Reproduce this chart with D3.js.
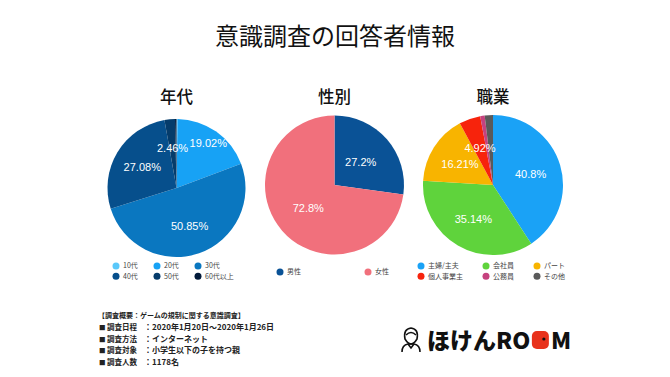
<!DOCTYPE html>
<html>
<head>
<meta charset="utf-8">
<script src="https://cdn.jsdelivr.net/npm/d3@7"></script>
<style>
  body { margin: 0; background: #fff; }
  svg { display: block; }
</style>
</head>
<body>
<script>
// --- data ---
const ageLabels = ["10代", "20代", "30代", "40代", "50代", "60代以上"];
const ageValues = [0.25, 19.02, 50.85, 27.08, 2.46, 0.34];
const ageColors = ["#5ac8fa", "#17a2f5", "#0a77c0", "#064f8c", "#053c6b", "#021a3a"];

const sexLabels = ["男性", "女性"];
const sexValues = [27.2, 72.8];
const sexColors = ["#0a5296", "#f1707c"];

const jobLabels = ["主婦/主夫", "会社員", "パート", "個人事業主", "公務員", "その他"];
const jobValues = [40.8, 35.14, 16.21, 4.92, 1.03, 1.9];
const jobColors = ["#1aa2f6", "#5fd33c", "#f8b400", "#f7230c", "#c6427f", "#5a5a5a"];

const infoRows = [
  ["調査日程", "：2020年1月20日〜2020年1月26日"],
  ["調査方法", "：インターネット"],
  ["調査対象", "：小学生以下の子を持つ親"],
  ["調査人数", "：1178名"]
];

const width = 670, height = 377;
const jp = "'Noto Sans CJK JP', 'Noto Sans', sans-serif";
const latin = "'Liberation Sans', Arial, 'Noto Sans CJK JP', sans-serif";

const svg = d3.select("body").append("svg")
  .attr("width", width)
  .attr("height", height);

svg.append("text")
  .attr("x", 335).attr("y", 45)
  .attr("text-anchor", "middle")
  .attr("font-family", jp)
  .attr("font-size", 24)
  .attr("fill", "#111")
  .text("意識調査の回答者情報");

function drawPie(opt) {
  const g = svg.append("g").attr("transform", `translate(${opt.cx},${opt.cy})`);
  const pie = d3.pie().sort(null).value(d => d.v);
  const arcs = pie(opt.labels.map((l, i) => ({ l, v: opt.values[i], c: opt.colors[i] })));
  const arc = d3.arc().innerRadius(0).outerRadius(opt.r);

  svg.append("text")
    .attr("x", opt.cx).attr("y", 103)
    .attr("text-anchor", "middle")
    .attr("font-family", jp)
    .attr("font-weight", 500)
    .attr("font-size", 16.5)
    .attr("fill", "#111")
    .text(opt.title);

  g.selectAll("path")
    .data(arcs)
    .enter().append("path")
    .attr("d", arc)
    .attr("fill", d => d.data.c);

  g.selectAll("text.pct")
    .data(arcs.filter(d => d.data.v >= 2))
    .enter().append("text")
    .attr("class", "pct")
    .attr("transform", d => {
      const k = (opt.labelK && opt.labelK[d.data.l]) || opt.k;
      const a = (d.startAngle + d.endAngle) / 2;
      return `translate(${Math.sin(a) * opt.r * k},${-Math.cos(a) * opt.r * k})`;
    })
    .attr("text-anchor", "middle")
    .attr("dy", "0.36em")
    .attr("font-family", latin)
    .attr("font-size", 11)
    .attr("fill", "#fff")
    .text(d => d.data.v + "%");

  // legend
  const nc = opt.colX.length;
  const items = svg.append("g").selectAll("g")
    .data(opt.labels)
    .enter().append("g")
    .attr("transform", (d, i) =>
      `translate(${opt.colX[i % nc]},${opt.ly + Math.floor(i / nc) * 10.3})`);
  items.append("circle")
    .attr("r", 3.5)
    .attr("fill", (d, i) => opt.colors[i]);
  items.append("text")
    .attr("x", 7)
    .attr("dy", "0.35em")
    .attr("font-family", jp)
    .attr("font-size", 7)
    .attr("fill", "#444")
    .text(d => d);
}

drawPie({ title: "年代", cx: 176.5, cy: 188, r: 69, labels: ageLabels, values: ageValues,
  colors: ageColors, k: 0.58, labelK: { "20代": 0.8 }, ly: 266, colX: [116, 157, 198] });
drawPie({ title: "性別", cx: 334.5, cy: 185, r: 69.5, labels: sexLabels, values: sexValues,
  colors: sexColors, k: 0.5, ly: 272, colX: [280, 368] });
drawPie({ title: "職業", cx: 493, cy: 185, r: 70, labels: jobLabels, values: jobValues,
  colors: jobColors, k: 0.56, ly: 266, colX: [421, 486, 537] });

// survey info block
const info = svg.append("g")
  .attr("font-family", jp)
  .attr("font-weight", 700)
  .attr("fill", "#222");
info.append("text")
  .attr("x", 98).attr("y", 318)
  .attr("font-size", 7)
  .text("【調査概要：ゲームの規制に関する意識調査】");
infoRows.forEach((r, i) => {
  const y = 330 + i * 11.5;
  info.append("text").attr("x", 99).attr("y", y).attr("font-size", 6.5).text("■");
  info.append("text").attr("x", 107).attr("y", y).attr("font-size", 7.5).text(r[0]);
  info.append("text").attr("x", 144).attr("y", y).attr("font-size", 8).text(r[1]);
});

// logo
const logo = svg.append("g");
const icon = logo.append("g").attr("transform", "translate(411,340)")
  .attr("fill", "none").attr("stroke", "#111").attr("stroke-width", 1.6);
icon.append("path").attr("d", "M-9,12 Q-9,5 -3,4 L3,4 Q9,5 9,12");
icon.append("path").attr("d", "M-6,-1 Q-8,-11 0,-12 Q8,-11 6,-1 Q3,4 0,4 Q-3,4 -6,-1 Z");
icon.append("path").attr("d", "M-5,-5 Q0,-10 5,-5");
icon.append("path").attr("d", "M-3,4 L0,8 L3,4");

const lt = logo.append("text")
  .attr("x", 427).attr("y", 349)
  .attr("font-family", jp)
  .attr("font-weight", 900)
  .attr("font-size", 23)
  .attr("fill", "#111")
  .text("ほけんRO");
const w1 = lt.node().getComputedTextLength();
const ox = 427 + w1 + 1.5;
logo.append("rect")
  .attr("x", ox).attr("y", 331).attr("width", 17).attr("height", 18)
  .attr("rx", 5).attr("fill", "#e8321c");
logo.append("circle")
  .attr("cx", ox + 12).attr("cy", 339).attr("r", 1.6).attr("fill", "#111");
logo.append("text")
  .attr("x", ox + 19).attr("y", 349)
  .attr("font-family", jp)
  .attr("font-weight", 900)
  .attr("font-size", 23)
  .attr("fill", "#111")
  .text("M");
</script>
</body>
</html>
